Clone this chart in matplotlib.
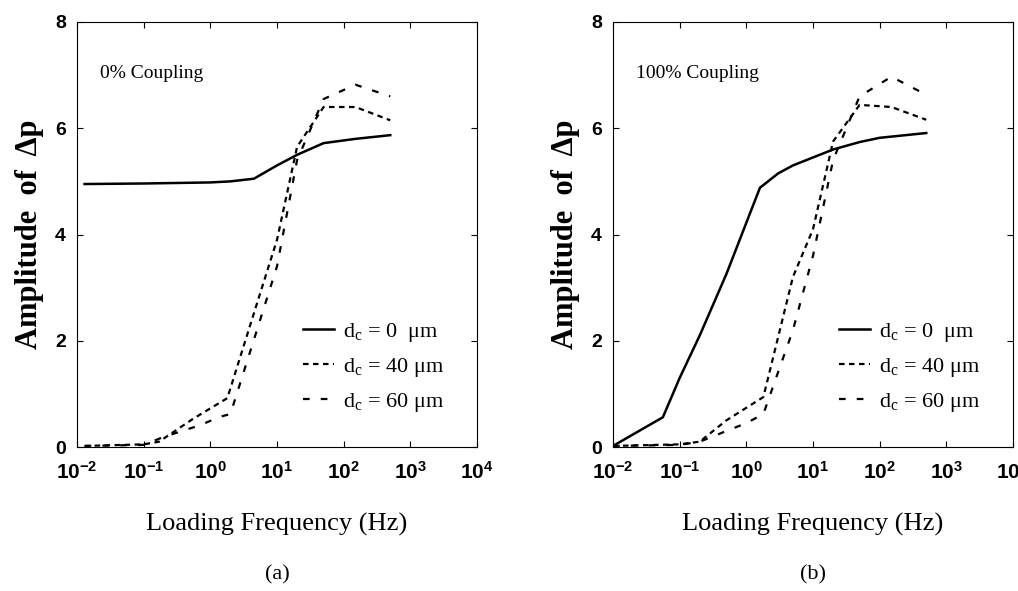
import numpy as np
import matplotlib; matplotlib.use('Agg'); import matplotlib.pyplot as plt
from matplotlib.ticker import LogLocator, NullLocator

plt.rcParams['font.family'] = 'Liberation Serif'
plt.rcParams['mathtext.fontset'] = 'custom'
plt.rcParams['mathtext.it'] = 'Liberation Serif'
plt.rcParams['mathtext.rm'] = 'Liberation Serif'
plt.rcParams['axes.unicode_minus'] = False

# panel (a): 0% coupling
fa_0 = [0.013, 0.1, 1, 2, 4.5, 10, 20, 50, 150, 500]
amp_a_0 = [4.95, 4.96, 4.98, 5.0, 5.05, 5.3, 5.5, 5.72, 5.8, 5.87]
fa_40 = [0.013, 0.1, 0.17, 0.55, 1.8, 5, 10, 20, 50, 150, 500]
amp_a_40 = [0.02, 0.05, 0.1, 0.53, 0.92, 2.7, 3.9, 5.65, 6.4, 6.4, 6.15]
fa_60 = [0.013, 0.1, 0.2, 0.7, 1.4, 2, 5, 10, 20, 50, 150, 500]
amp_a_60 = [0.02, 0.04, 0.19, 0.41, 0.57, 0.62, 2.2, 3.4, 5.4, 6.55, 6.82, 6.6]

# panel (b): 100% coupling
fb_0 = [0.01, 0.056, 0.1, 0.2, 0.5, 1.6, 3, 5, 10, 20, 50, 100, 500]
amp_b_0 = [0.02, 0.56, 1.3, 2.1, 3.25, 4.88, 5.15, 5.3, 5.45, 5.6, 5.74, 5.82, 5.91]
fb_40 = [0.01, 0.1, 0.2, 0.5, 1.8, 5, 10, 20, 50, 150, 500]
amp_b_40 = [0.02, 0.05, 0.1, 0.5, 0.94, 3.2, 4.1, 5.75, 6.44, 6.4, 6.16]
fb_60 = [0.01, 0.1, 0.2, 0.5, 1.0, 1.8, 5, 10, 20, 50, 150, 500]
amp_b_60 = [0.02, 0.04, 0.1, 0.3, 0.45, 0.62, 2.2, 3.6, 5.4, 6.6, 6.97, 6.63]

labels = [r'd$_c$ = 0  μm', r'd$_c$ = 40 μm', r'd$_c$ = 60 μm']
panels = [
    ('0% Coupling', '(a)', (fa_0, amp_a_0), (fa_40, amp_a_40), (fa_60, amp_a_60)),
    ('100% Coupling', '(b)', (fb_0, amp_b_0), (fb_40, amp_b_40), (fb_60, amp_b_60)),
]

fig = plt.figure(figsize=(10.18, 5.91), dpi=100)
lefts = [77/1018, 613/1018]
for left, (title, cap, s0, s40, s60) in zip(lefts, panels):
    ax = fig.add_axes([left, 144/591, 400/1018, 425/591])
    ax.plot(*s0, 'k-', lw=1.8, label=labels[0])
    ax.plot(*s40, color='k', lw=1.6, ls=(0, (2.5, 2)), label=labels[1])
    ax.plot(*s60, color='k', lw=1.6, ls=(0, (3, 5)), label=labels[2])
    ax.set_xscale('log')
    ax.set_xlim(1e-2, 1e4); ax.set_ylim(0, 8)
    ax.xaxis.set_major_locator(LogLocator(base=10, numticks=10))
    ax.xaxis.set_minor_locator(NullLocator())
    ax.set_yticks([0, 2, 4, 6, 8])
    ax.tick_params(direction='in', top=True, right=True, length=4)
    ax.tick_params(axis='x', labelsize=15, pad=10)
    ax.tick_params(axis='y', labelsize=14, pad=8)
    for t in ax.get_xticklabels() + ax.get_yticklabels():
        t.set_fontfamily('Liberation Sans'); t.set_fontweight('bold')
    ax.set_ylabel(r'Amplitude  of  Δp', fontsize=22, fontweight='bold', labelpad=8)
    ax.set_xlabel('Loading Frequency (Hz)', fontsize=19, labelpad=22)
    ax.text(0.058, 0.868, title, transform=ax.transAxes, fontsize=14)
    ax.text(0.5, -0.30, cap, transform=ax.transAxes, fontsize=16,
            ha='center', va='center')
    ax.legend(loc='lower left', bbox_to_anchor=(0.515, 0.03), frameon=False,
              fontsize=16, handlelength=1.4, handletextpad=0.4, labelspacing=0.55)

fig.savefig('out.png', dpi=100)
